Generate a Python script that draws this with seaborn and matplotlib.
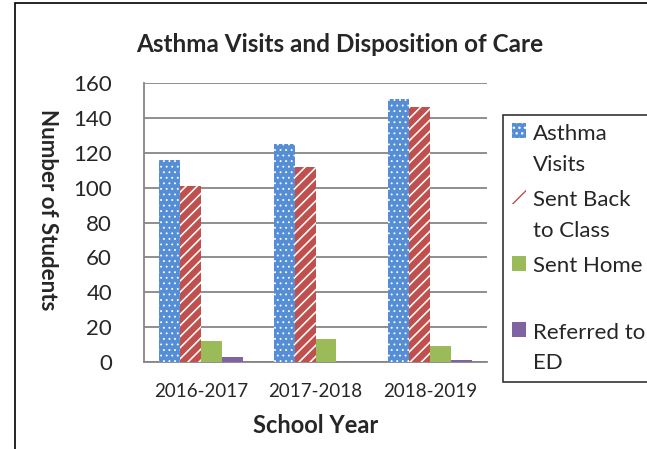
"""
Asthma visits and disposition of care by school year
"""
import pandas as pd
import numpy as np
import matplotlib
matplotlib.use('Agg')
import matplotlib.pyplot as plt
import seaborn as sns
from matplotlib.patches import Patch, Rectangle
from matplotlib.legend_handler import HandlerPatch

# data
years = ['2016-2017', '2017-2018', '2018-2019']
asthma_visits = [116, 125, 151]
sent_back = [101, 112, 146]
sent_home = [12, 13, 9]
referred_ed = [3, 0, 1]
series = ['Asthma Visits', 'Sent Back to Class', 'Sent Home', 'Referred to ED']
legend_labels = ['Asthma\nVisits', 'Sent Back\nto Class', 'Sent Home\n ', 'Referred to\nED']

df = pd.DataFrame({
    'year': years * 4,
    'value': asthma_visits + sent_back + sent_home + referred_ed,
    'series': [s for s in series for _ in years],
})

sns.set_style("white")
plt.rcParams['font.family'] = ['Lato', 'DejaVu Sans']

blue = '#558ED5'
red = '#C0504D'
green = '#9BBB59'
purple = '#8064A2'
grid_gray = '#868686'


class RaisedPatch(HandlerPatch):
    """legend square next to the first line of a two line label"""
    def create_artists(self, legend, orig_handle, xdescent, ydescent,
                       width, height, fontsize, trans):
        return super().create_artists(legend, orig_handle, xdescent,
                                      ydescent - 0.85 * fontsize, width,
                                      height, fontsize, trans)


fig = plt.figure(figsize=(6.47, 4.49), dpi=100)
ax = fig.add_axes([0.2226, 0.1938, 0.7527 - 0.2226, 0.8151 - 0.1938])

sns.barplot(data=df, x='year', y='value', hue='series', hue_order=series,
            palette=[blue, 'white', green, purple], width=0.73,
            saturation=1, legend=False, ax=ax, zorder=3)

# patterns: dotted blue, striped red
for i, cont in enumerate(ax.containers):
    for bar in cont:
        bar.set_linewidth(0)
        if i == 0:
            bar.set_edgecolor('white')
            bar.set_hatch('...')
            if hasattr(bar, 'set_hatch_linewidth'):
                bar.set_hatch_linewidth(0.6)
        elif i == 1:
            bar.set_edgecolor(red)
            bar.set_hatch('///')
            if hasattr(bar, 'set_hatch_linewidth'):
                bar.set_hatch_linewidth(4.5)

ax.set_ylim(0, 160)
ax.set_yticks(np.arange(0, 161, 20))
ax.set_xlim(-0.5, 2.5)
ax.yaxis.grid(True, color=grid_gray, linewidth=1.3, zorder=0)
ax.set_axisbelow(True)
for s in ['top', 'right']:
    ax.spines[s].set_visible(False)
for s in ['left', 'bottom']:
    ax.spines[s].set_color(grid_gray)
    ax.spines[s].set_linewidth(1.3)

ax.tick_params(axis='y', which='major', direction='out', length=5, width=1.3,
               color=grid_gray, labelsize=16, pad=18)
ax.tick_params(axis='x', which='major', length=0, labelsize=13.5, pad=15)
ax.set_xticks([-0.5, 0.5, 1.5, 2.5], minor=True)
ax.tick_params(axis='x', which='minor', direction='out', length=6, width=1.3,
               color=grid_gray)

ax.set_xlabel('School Year', fontsize=17, fontweight='bold', va='center')
ax.xaxis.set_label_coords(0.5, -0.226)
ax.set_ylabel('Number of Students', fontsize=16, fontweight='bold',
              rotation=270, va='center', ha='center')
ax.yaxis.set_label_coords(-0.28, 0.545)
fig.text(0.525, 0.90, 'Asthma Visits and Disposition of Care', ha='center',
         va='center', fontsize=17.5, fontweight='bold')

handles = [
    Patch(facecolor=blue, edgecolor='white', hatch='...', linewidth=0),
    Patch(facecolor='white', edgecolor=red, hatch='//', linewidth=0),
    Patch(facecolor=green, linewidth=0),
    Patch(facecolor=purple, linewidth=0),
]
leg = fig.legend(handles, legend_labels, loc='upper left',
                 bbox_to_anchor=(503 / 647, 1 - 115 / 449), fontsize=16,
                 frameon=True, fancybox=False, edgecolor='black',
                 handlelength=0.65, handleheight=0.65, handletextpad=0.3,
                 labelspacing=0.7, borderpad=0.4, borderaxespad=0,
                 handler_map={Patch: RaisedPatch()})
leg.get_frame().set_linewidth(1.2)
for t in leg.get_texts():
    t.set_linespacing(1.67)

# outer chart border
fig.add_artist(Rectangle((15 / 647, -0.1), 1.2, 1 - 3 / 449 + 0.1,
                         transform=fig.transFigure, fill=False,
                         edgecolor='black', linewidth=1.2))

plt.savefig('out.png', dpi=100)
plt.close()
